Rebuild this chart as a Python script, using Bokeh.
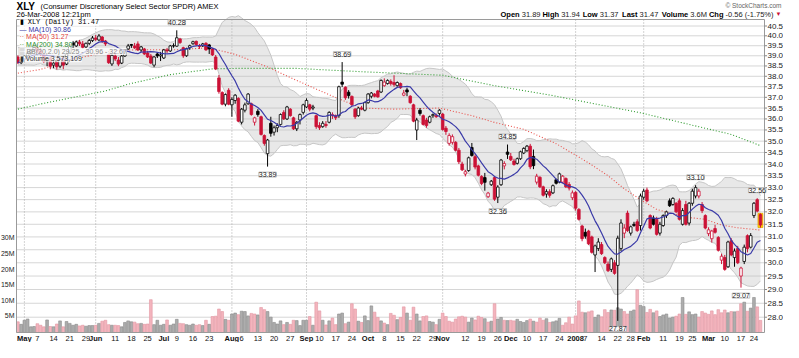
import math
from bokeh.plotting import figure
from bokeh.models import Range1d, LinearScale, Label
from bokeh.embed import file_html
from bokeh.resources import INLINE

# ---------------- data (XLY daily, 27-Apr-2007 .. 26-Mar-2008) ----------------
open_ = [38.94, 38.66, 38.84, 38.99, 39.14, 39.29, 39.39, 39.24, 39.04, 38.74, 38.89, 38.54, 38.69, 38.49, 38.84, 38.59, 39.14, 39.64, 39.49, 39.69, 39.59, 39.44, 39.62, 39.76,
         39.89, 39.79, 39.94, 39.74, 39.06, 38.60, 38.99, 38.79, 38.64, 38.99, 39.34, 39.56, 39.49, 39.59, 39.29, 39.34, 39.14, 38.99, 38.54, 39.09, 38.99,
         38.89, 39.29, 39.24, 39.49, 39.48, 39.84, 39.40, 39.00, 39.40, 39.60, 39.72, 39.49, 39.49, 39.62, 39.54, 39.34, 38.94, 37.92, 37.23, 36.68, 37.33,
         36.65, 36.85, 36.95, 35.85, 36.40, 36.70, 36.70, 35.85, 36.35, 36.10, 35.25, 34.45, 35.80, 35.40, 35.60, 35.75, 36.30, 36.00, 36.45, 36.05, 35.55, 35.95, 36.30,
         36.55, 36.65, 36.50, 36.15, 35.70, 35.65, 35.75, 35.85, 36.15, 36.15, 36.15, 37.72, 37.48, 37.24, 37.04, 36.45, 36.15, 36.50, 36.40,
         36.75, 37.05, 37.15, 37.30, 37.25, 37.55, 37.65, 37.75, 37.70, 37.55, 37.65, 37.10, 37.35, 37.05, 36.65, 35.50, 36.40, 36.15, 35.95, 35.85, 36.15, 36.15, 36.25,
         36.22, 35.58, 34.90, 34.95, 34.95, 34.60, 34.00, 33.57, 33.72, 34.72, 34.32, 33.92, 33.47, 33.42, 32.62, 33.12, 33.42, 32.60, 33.12, 33.92, 34.52,
         34.33, 34.13, 34.03, 34.23, 34.48, 34.58, 34.78, 34.33, 33.23, 33.43, 33.03, 32.73, 32.83, 32.78, 33.33, 33.23, 33.23, 33.38, 33.13, 32.58,
         32.80, 32.10, 31.43, 31.18, 31.23, 31.00, 30.30, 30.55, 30.70, 30.20, 29.95, 29.75, 30.00, 29.90, 30.55, 31.15, 31.95, 31.15, 31.50, 31.60, 31.45,
         32.60, 32.90, 31.85, 31.75, 31.70, 31.15, 31.45, 31.85, 32.45, 32.30, 32.35, 32.45, 31.50, 32.30, 31.55, 32.35, 32.65, 32.65, 32.30, 31.85,
         31.13, 30.93, 31.33, 30.98, 30.10, 30.20, 29.85, 30.85, 30.20, 30.55, 29.50, 30.05, 31.05, 30.60, 31.85, 32.50, 31.89]
high = [39.02, 38.89, 39.04, 39.19, 39.34, 39.49, 39.54, 39.39, 39.09, 38.94, 38.99, 38.79, 38.84, 38.89, 38.99, 39.14, 39.59, 39.74, 39.76, 39.79, 39.74, 39.66, 39.84, 39.99,
        40.04, 40.09, 39.99, 39.79, 39.12, 39.08, 39.14, 38.94, 39.04, 39.29, 39.59, 39.59, 39.64, 39.72, 39.49, 39.39, 39.24, 39.09, 38.99, 39.14, 39.19,
        39.34, 39.39, 39.54, 39.62, 40.28, 39.89, 39.45, 39.40, 39.55, 39.75, 39.76, 39.59, 39.64, 39.68, 39.59, 39.39, 39.04, 38.06, 37.28, 37.18, 37.43,
        37.00, 37.15, 37.00, 36.50, 36.75, 37.20, 36.75, 36.10, 36.45, 36.15, 35.30, 35.10, 36.10, 35.70, 35.80, 36.25, 36.40, 36.60, 36.50, 36.10, 35.90, 36.25, 36.70,
        36.95, 36.70, 36.65, 36.20, 35.85, 35.90, 35.90, 36.35, 36.30, 36.20, 37.55, 38.69, 37.52, 37.34, 37.09, 36.50, 36.55, 36.60, 36.80,
        37.20, 37.25, 37.20, 37.35, 37.85, 37.90, 37.85, 37.85, 38.05, 37.75, 37.70, 37.35, 37.45, 37.10, 36.70, 36.05, 36.50, 36.20, 36.05, 36.15, 36.25, 36.25, 36.45,
        36.27, 35.68, 35.35, 35.30, 35.00, 34.70, 34.10, 33.75, 34.32, 34.92, 34.42, 33.97, 33.52, 33.62, 32.82, 33.32, 33.47, 33.10, 34.22, 34.12, 34.85,
        34.48, 34.23, 34.28, 34.58, 34.73, 34.83, 34.88, 34.63, 33.58, 33.48, 33.08, 32.93, 32.93, 33.13, 33.38, 33.63, 33.53, 33.43, 33.23, 32.88,
        32.85, 32.15, 31.48, 31.33, 31.28, 31.05, 30.70, 30.95, 30.80, 30.25, 30.05, 30.20, 30.10, 31.05, 31.70, 31.50, 32.05, 31.45, 31.60, 31.70, 32.75,
        32.95, 33.00, 31.90, 31.85, 31.80, 31.60, 31.90, 32.05, 32.55, 32.60, 32.40, 32.55, 32.15, 32.45, 32.40, 32.95, 33.10, 32.95, 32.40, 31.90,
        31.38, 31.28, 31.48, 31.03, 30.35, 30.30, 30.85, 30.95, 30.55, 30.65, 29.85, 30.70, 31.10, 31.15, 32.40, 32.56, 31.94]
low = [38.59, 38.59, 38.69, 38.89, 39.04, 39.19, 39.14, 38.99, 38.64, 38.49, 38.34, 38.39, 38.32, 38.39, 38.34, 38.54, 39.09, 39.39, 39.44, 39.49, 39.34, 39.39, 39.54, 39.69,
       39.74, 39.74, 39.64, 39.49, 38.60, 38.50, 38.74, 38.49, 38.59, 38.94, 39.29, 39.39, 39.34, 39.24, 39.19, 39.04, 38.89, 38.59, 38.44, 38.89, 38.74,
       38.84, 39.14, 39.19, 39.40, 39.44, 39.59, 38.90, 38.95, 39.30, 39.55, 39.49, 39.34, 39.44, 39.25, 39.09, 38.99, 38.30, 37.17, 36.63, 36.58, 36.63,
       36.10, 36.70, 35.85, 35.75, 36.30, 36.65, 36.15, 35.70, 36.10, 35.25, 34.80, 33.89, 35.20, 35.25, 35.40, 35.70, 35.95, 35.95, 36.10, 35.50, 35.45, 35.75, 36.20,
       36.50, 36.35, 36.40, 35.55, 35.50, 35.60, 35.60, 35.80, 36.00, 35.95, 36.05, 37.48, 36.88, 36.94, 36.60, 36.00, 36.10, 36.40, 36.35,
       36.70, 36.95, 37.00, 36.98, 37.20, 37.50, 37.60, 37.55, 37.50, 37.50, 37.40, 37.05, 37.05, 36.70, 35.85, 35.05, 36.15, 35.70, 35.60, 35.80, 36.05, 36.05, 36.15,
       35.47, 35.28, 34.80, 34.85, 34.55, 34.00, 33.70, 33.47, 33.67, 34.32, 33.77, 33.47, 33.10, 32.87, 32.57, 33.07, 32.45, 32.36, 33.07, 33.77, 34.22,
       34.13, 33.93, 33.98, 34.18, 34.43, 34.53, 33.78, 33.78, 33.13, 32.98, 32.63, 32.58, 32.58, 32.73, 33.13, 33.18, 33.18, 32.98, 32.88, 32.48,
       32.05, 31.65, 30.83, 30.93, 30.68, 30.35, 29.65, 30.45, 30.30, 29.95, 29.65, 29.65, 29.55, 27.87, 30.45, 30.95, 31.20, 31.05, 31.40, 31.20, 31.25,
       32.50, 32.40, 31.30, 31.45, 31.05, 31.05, 31.40, 31.75, 32.20, 32.25, 31.95, 31.65, 31.45, 31.45, 31.45, 32.25, 32.55, 32.55, 31.95, 31.30,
       31.03, 30.78, 31.13, 30.43, 29.95, 29.70, 29.80, 30.25, 29.85, 29.95, 29.07, 29.95, 30.40, 30.55, 31.75, 31.98, 31.37]
close = [38.66, 38.82, 38.99, 39.14, 39.26, 39.42, 39.22, 39.06, 38.72, 38.86, 38.49, 38.64, 38.46, 38.82, 38.54, 39.09, 39.49, 39.54, 39.69, 39.59, 39.42, 39.62, 39.76, 39.89,
         39.82, 39.99, 39.74, 39.59, 38.66, 39.02, 38.84, 38.59, 38.99, 39.24, 39.49, 39.52, 39.39, 39.29, 39.44, 39.09, 38.94, 38.64, 38.94, 38.99, 39.04,
         39.29, 39.24, 39.49, 39.50, 39.90, 39.66, 39.00, 39.35, 39.50, 39.70, 39.56, 39.46, 39.59, 39.29, 39.34, 39.04, 38.35, 37.27, 36.68, 37.13, 36.68,
         36.90, 37.10, 35.90, 36.45, 36.65, 37.15, 36.20, 36.05, 36.20, 35.30, 34.90, 35.05, 35.35, 35.60, 35.70, 36.20, 36.00, 36.55, 36.15, 35.55, 35.85, 36.20, 36.65,
         36.85, 36.45, 36.55, 35.65, 35.60, 35.80, 35.70, 36.30, 36.20, 36.05, 37.50, 37.62, 36.98, 37.08, 36.65, 36.10, 36.50, 36.45, 36.75,
         37.15, 37.20, 37.05, 37.02, 37.80, 37.72, 37.80, 37.65, 37.60, 37.70, 37.45, 37.20, 37.25, 36.75, 35.90, 35.95, 36.25, 35.75, 35.70, 36.10, 36.20, 36.10, 36.40,
         35.52, 35.43, 35.25, 35.20, 34.60, 34.10, 33.75, 33.67, 34.27, 34.37, 33.87, 33.52, 33.17, 33.22, 32.77, 33.27, 32.52, 33.02, 34.17, 34.02, 34.42,
         34.18, 33.98, 34.23, 34.53, 34.68, 34.78, 33.88, 33.93, 33.48, 33.03, 32.68, 32.83, 32.68, 33.08, 33.18, 33.58, 33.48, 33.03, 32.98, 32.78,
         32.15, 31.70, 30.93, 31.03, 30.73, 30.40, 30.65, 30.80, 30.35, 30.00, 29.70, 30.15, 29.60, 30.95, 31.55, 31.35, 31.25, 31.40, 31.45, 31.25, 32.65,
         32.85, 32.45, 31.35, 31.50, 31.10, 31.50, 31.85, 32.00, 32.25, 32.55, 32.00, 31.70, 32.05, 31.50, 32.35, 32.85, 33.00, 32.85, 32.05, 31.35,
         31.28, 31.23, 31.18, 30.48, 30.25, 29.75, 30.80, 30.30, 30.45, 30.00, 29.80, 30.60, 30.55, 31.05, 32.35, 32.03, 31.47]
volume_m = [3.1, 2.3, 3.6, 4.0, 1.5, 1.6, 2.5, 2.0, 1.5, 3.7, 1.6, 1.5, 2.4, 3.4, 1.5, 3.2, 2.6, 2.0, 2.3, 1.8, 2.0, 1.7, 1.9, 1.9,
            2.0, 2.6, 3.3, 3.6, 2.2, 2.0, 2.0, 1.9, 1.5, 2.9, 3.4, 3.1, 3.0, 2.5, 2.6, 2.3, 2.4, 10.2, 2.2, 3.6, 2.0,
            2.3, 3.7, 2.0, 2.4, 3.9, 2.6, 2.5, 2.2, 2.0, 2.4, 2.0, 2.2, 1.9, 3.6, 2.3, 4.8, 4.9, 7.2, 6.4, 3.9, 3.6,
            5.6, 5.9, 5.4, 6.5, 6.4, 5.0, 5.8, 5.6, 5.3, 7.7, 7.0, 6.4, 4.6, 2.9, 2.4, 3.4, 2.2, 2.9, 2.3, 3.6, 3.5, 1.9, 3.6,
            3.6, 4.8, 2.0, 9.4, 6.6, 3.6, 2.1, 3.4, 4.3, 2.2, 5.6, 5.9, 2.5, 3.0, 8.9, 7.2, 3.3, 2.9, 5.0,
            3.5, 8.2, 6.2, 4.5, 3.4, 2.7, 2.2, 5.8, 5.2, 3.8, 4.5, 7.9, 5.9, 3.6, 7.8, 5.6, 3.4, 4.8, 5.0, 3.2, 3.0, 2.2, 3.9,
            5.9, 4.8, 3.3, 3.0, 4.0, 4.7, 4.9, 4.6, 3.0, 4.3, 3.7, 4.9, 4.5, 4.1, 3.0, 3.3, 8.9, 4.0, 4.5, 3.6, 3.5,
            3.6, 3.4, 3.9, 3.2, 2.9, 3.5, 4.0, 3.3, 3.0, 4.3, 3.6, 4.1, 2.9, 3.1, 3.4, 4.2, 2.0, 2.8, 4.6, 2.4,
            5.0, 9.8, 6.2, 6.0, 6.3, 6.6, 4.5, 5.3, 4.7, 7.0, 6.1, 6.9, 6.8, 7.6, 7.2, 6.4, 5.6, 6.5, 6.9, 13.4, 8.4,
            8.0, 6.1, 7.1, 6.0, 6.6, 4.8, 5.3, 5.6, 4.3, 4.6, 4.9, 5.6, 10.9, 5.5, 6.3, 5.4, 5.6, 4.6, 6.4, 5.9,
            5.5, 6.6, 5.4, 7.0, 6.0, 6.9, 6.0, 6.4, 6.3, 6.5, 8.9, 9.4, 6.5, 7.5, 10.9, 7.9, 3.57]

# moving averages (trading-day index, value)
ma50_idx = [0, 7, 16, 25, 30, 37, 49, 59, 67, 77, 86, 92, 98, 106, 116, 130, 140, 147, 156, 166, 176, 182, 187, 192, 197, 202, 207, 212, 217, 222, 229]
ma50_val = [38.15, 38.33, 38.78, 39.11, 39.26, 39.30, 39.30, 39.40, 39.07, 38.45, 37.80, 37.39, 36.99, 36.50, 36.45, 36.50, 36.15, 35.84, 35.53, 34.89, 34.05, 33.50, 32.95, 32.50, 32.10, 31.93, 31.77, 31.70, 31.47, 31.36, 31.27]
ma200_idx = [0, 8, 27, 34, 47, 60, 67, 86, 106, 131, 147, 165, 192, 207, 220, 229]
ma200_val = [36.45, 36.72, 37.30, 37.62, 38.08, 38.36, 38.38, 38.38, 38.22, 38.05, 37.55, 37.08, 36.28, 35.75, 35.30, 34.80]

# axis labels
tick_idx = [2, 6, 11, 16, 21, 24, 30, 35, 40, 45, 49, 54, 59, 66, 69, 74, 79, 84, 89, 93, 98, 103, 108, 113, 118, 123, 128,
            131, 138, 143, 148, 152, 157, 162, 167, 172, 175, 180, 185, 189, 193, 199, 204, 208, 213, 218, 223, 227]
tick_text = ["May", "7", "14", "21", "29", "Jun", "11", "18", "25", "Jul", "9", "16", "23", "Aug", "6", "13", "20", "27",
             "Sep", "10", "17", "24", "Oct", "8", "15", "22", "29", "Nov", "12", "19", "26", "Dec", "10", "17", "24",
             "2008", "7", "14", "22", "28", "Feb", "11", "19", "25", "Mar", "10", "17", "24"]
month_names = ["May", "Jun", "Jul", "Aug", "Sep", "Oct", "Nov", "Dec", "2008", "Feb", "Mar"]
month_line_idx = [2, 24, 66, 89, 131, 172, 193]   # dotted month separators visible on the chart
price_ticks = [28.0, 28.5, 29.0, 29.5, 30.0, 30.5, 31.0, 31.5, 32.0, 32.5, 33.0, 33.5, 34.0, 34.5, 35.0, 35.5,
               36.0, 36.5, 37.0, 37.5, 38.0, 38.5, 39.0, 39.5, 40.0, 40.5]
vol_ticks = [5, 10, 15, 20, 25, 30]
vol_tick_text = ["5M", "10M", "15M", "20M", "25M", "30M"]

# price extremes annotated on the chart: (day index, which end)
marks = [(49, "high"), (100, "high"), (77, "low"), (151, "high"), (148, "low"), (185, "low"), (209, "high"), (223, "low"), (228, "high")]

title_sym = "XLY"
title_name = "(Consumer Discretionary Select Sector SPDR) AMEX"
title_date = "26-Mar-2008 12:21pm"
quote = [("Open", "31.89"), ("High", "31.94"), ("Low", "31.37"), ("Last", "31.47"), ("Volume", "3.6M"), ("Chg", "-0.56 (-1.75%)")]
legend_lines = [("▮ XLY (Daily) 31.47", "#000000", "Liberation Mono"),
                ("— MA(10) 30.86", "#3434a6", "Liberation Sans"),
                ("·· MA(50) 31.27", "#e0403a", "Liberation Sans"),
                ("·· MA(200) 34.80", "#2a8c2a", "Liberation Sans"),
                ("▒ BB(20,2.0) 29.25 - 30.96 - 32.67", "#8a8a8a", "Liberation Sans"),
                ("▮ Volume 3,573,109", "#333333", "Liberation Sans")]

n = len(close)
assert len(open_) == n and len(high) == n and len(low) == n and len(volume_m) == n
idx = list(range(n))

# ---------------- derived indicators ----------------
ma10, bb_up, bb_lo = [], [], []
for i in idx:
    w = close[max(0, i - 9):i + 1]
    ma10.append(sum(w) / len(w))
    w20 = close[max(0, i - 19):i + 1]
    if len(w20) < 5:
        w20 = close[0:5]
    m = sum(w20) / len(w20)
    sd = math.sqrt(sum((v - m) ** 2 for v in w20) / len(w20))
    bb_up.append(m + 2 * sd)
    bb_lo.append(m - 2 * sd)

up = [i > 0 and close[i] >= close[i - 1] for i in idx]
RED = "#cc1236"
BLK = "#000000"
ccol = [BLK if u else RED for u in up]
cfill = [ccol[i] if close[i] < open_[i] else "white" for i in idx]
btop = [max(open_[i], close[i]) for i in idx]
bbot = [min(open_[i], close[i]) for i in idx]
vfill = ["#adadad" if u else "#f3b4bd" for u in up]
vline = ["#8a8a8a" if u else "#e397a3" for u in up]

FONT = "Liberation Sans"

def text_w(s, size, bold=False):
    t = 0
    for ch in s:
        if ch.isdigit():
            u = 556
        elif ch in ".,: ":
            u = 278
        elif ch in "-()":
            u = 333
        elif ch == "%":
            u = 889
        elif ch in "il":
            u = 278 if bold else 222
        elif ch in "tf":
            u = 333 if bold else 278
        elif ch == "r":
            u = 389 if bold else 333
        elif ch in "mM":
            u = 889 if bold else 833
        elif ch in "wW":
            u = 778 if bold else 722
        elif ch.isupper():
            u = 700
        else:
            u = 611 if bold else 556
        t += u
    return t * size / 1000.0

# ---------------- geometry (figure pixels -> data) ----------------
FIG_W, FIG_H = 783, 342
X0, X1 = -0.43, 230.25          # day range shown inside the chart box
BOX_L, BOX_R = 16.0, 764.0      # chart box, px from figure left
BOX_T, BOX_B = 19.0, 332.0      # chart box, px from figure top
Y405, B = 25.5, 789.0           # px of 40.5, px per log unit
L405 = math.log(40.5)
VZERO, VPX = 331.0, 3.12        # volume zero line and px per million shares

def px(xp):
    return X0 + (xp - BOX_L) * (X1 - X0) / (BOX_R - BOX_L)

def py(yp):
    return math.exp(L405 - (yp - Y405) / B)

def pv(yp):
    return (VZERO - yp) / VPX

P_TOP, P_BOT = py(BOX_T), py(BOX_B)

p = figure(width=FIG_W, height=FIG_H,
           x_range=Range1d(px(0), px(FIG_W)), y_range=Range1d(py(FIG_H), py(0)),
           y_axis_type="log", x_axis_location=None, y_axis_location=None,
           output_backend="svg", toolbar_location=None,
           min_border_left=0, min_border_right=0, min_border_top=0, min_border_bottom=0)
p.extra_y_ranges = {"vol": Range1d(pv(FIG_H), pv(0))}
p.extra_y_scales = {"vol": LinearScale()}
p.background_fill_color = "white"
p.border_fill_color = "white"
p.outline_line_color = None
p.grid.visible = False

# horizontal grid + vertical month lines
p.segment(x0=[X0] * len(price_ticks), x1=[X1] * len(price_ticks), y0=price_ticks, y1=price_ticks,
          line_color="#d6d6d6", line_width=1)
p.segment(x0=month_line_idx, x1=month_line_idx, y0=[P_BOT] * len(month_line_idx), y1=[P_TOP] * len(month_line_idx),
          line_color="#a8a8a8", line_width=1, line_dash="1 2")

# Bollinger band
p.varea(x=idx, y1=bb_lo, y2=bb_up, fill_color="#b9b9b9", fill_alpha=0.33)
p.line(idx, bb_up, line_color="#c6c6c6", line_width=1)
p.line(idx, bb_lo, line_color="#c6c6c6", line_width=1)

# volume
p.vbar(x=idx, width=0.84, top=volume_m, bottom=pv(BOX_B), fill_color=vfill, line_color=vline,
       line_width=0.6, y_range_name="vol")

# long moving averages
p.line(ma200_idx, ma200_val, line_color="#2e9a2e", line_width=1.1, line_dash="1 2")
p.line(ma50_idx, ma50_val, line_color="#e8504a", line_width=1.1, line_dash="1 2")

# highlight of latest bar
p.vbar(x=[idx[-1]], width=1.5, top=[high[-1]], bottom=[low[-1]], fill_color="#ffd200",
       line_color="#e3a500", line_width=0.8)

# candles
p.segment(x0=idx, y0=low, x1=idx, y1=high, line_color=ccol, line_width=1)
p.vbar(x=idx, width=0.8, top=btop, bottom=bbot, fill_color=cfill, line_color=ccol, line_width=0.8)

# short moving average
p.line(idx, ma10, line_color="#3a3aa8", line_width=1.2)

# chart box
p.quad(left=[X0], right=[X1], bottom=[P_BOT], top=[P_TOP], fill_color=None,
       line_color="#9a9a9a", line_width=1)

# right price scale
p.segment(x0=[X1] * len(price_ticks), x1=[px(BOX_R + 2.5)] * len(price_ticks), y0=price_ticks, y1=price_ticks,
          line_color="#888888", line_width=1)
for t in price_ticks:
    p.add_layout(Label(x=px(BOX_R + 3), y=t, text="%.1f" % t, text_align="left", text_baseline="middle",
                       text_font=FONT, text_font_size="8px", text_color="#222222"))

# ---------------- annotations ----------------
for i, kind in marks:
    val = high[i] if kind == "high" else low[i]
    p.add_layout(Label(x=i, y=val, y_offset=8 if kind == "high" else -8, text="%.2f" % val,
                       text_align="center", text_baseline="middle", text_font=FONT,
                       text_font_size="7px", text_color="#222222",
                       background_fill_color="white", background_fill_alpha=0.9,
                       border_line_color="#b0b0b0", border_line_width=0.8))

# x labels
for i, t in zip(tick_idx, tick_text):
    p.add_layout(Label(x=i, y=py(337.5), text=t, text_align="center",
                       text_baseline="middle", text_font=FONT, text_font_size="7.5px",
                       text_font_style="bold" if t in month_names else "normal",
                       text_color="#111111"))

# volume labels
for v, t in zip(vol_ticks, vol_tick_text):
    p.add_layout(Label(x=px(BOX_L - 2), y=v, y_range_name="vol", text=t,
                       text_align="right", text_baseline="middle", text_font=FONT,
                       text_font_size="7px", text_color="#222222"))

# legend
for k, (t, c, f) in enumerate(legend_lines):
    p.add_layout(Label(x=px(BOX_L + 3), y=py(BOX_T + 2.8 + 7.3 * k), text=t,
                       text_align="left", text_baseline="middle", text_font=f,
                       text_font_size="7px", text_color=c,
                       background_fill_color="white", background_fill_alpha=0.75))

# title block
p.add_layout(Label(x=px(BOX_L), y=py(6), text=title_sym,
                   text_align="left", text_baseline="middle", text_font=FONT,
                   text_font_size="10px", text_font_style="bold", text_color="#000000"))
p.add_layout(Label(x=px(BOX_L + text_w(title_sym, 10, True) + 3), y=py(6),
                   text=title_name, text_align="left", text_baseline="middle", text_font=FONT,
                   text_font_size="7.5px", text_color="#000000"))
p.add_layout(Label(x=px(BOX_L), y=py(14), text=title_date,
                   text_align="left", text_baseline="middle", text_font=FONT,
                   text_font_size="7.5px", text_color="#000000"))

p.add_layout(Label(x=px(BOX_R + 17), y=py(4.5), text="© StockCharts.com",
                   text_align="right", text_baseline="middle", text_font=FONT,
                   text_font_size="6.5px", text_color="#666666"))

cur = BOX_R + 17
p.add_layout(Label(x=px(cur), y=py(13.5), text="▼",
                   text_align="right", text_baseline="middle", text_font=FONT,
                   text_font_size="6px", text_color=RED))
cur -= 8
SZ = 7.5
for lab, val in reversed(quote):
    p.add_layout(Label(x=px(cur), y=py(13.5), text=val,
                       text_align="right", text_baseline="middle", text_font=FONT,
                       text_font_size="7.5px", text_color="#222222"))
    cur -= text_w(val, SZ) + text_w(" ", SZ)
    p.add_layout(Label(x=px(cur), y=py(13.5), text=lab,
                       text_align="right", text_baseline="middle", text_font=FONT,
                       text_font_size="7.5px", text_font_style="bold", text_color="#000000"))
    cur -= text_w(lab, SZ, True) + text_w(" ", SZ)

open("out.html", "w").write(file_html(p, INLINE, "XLY"))
